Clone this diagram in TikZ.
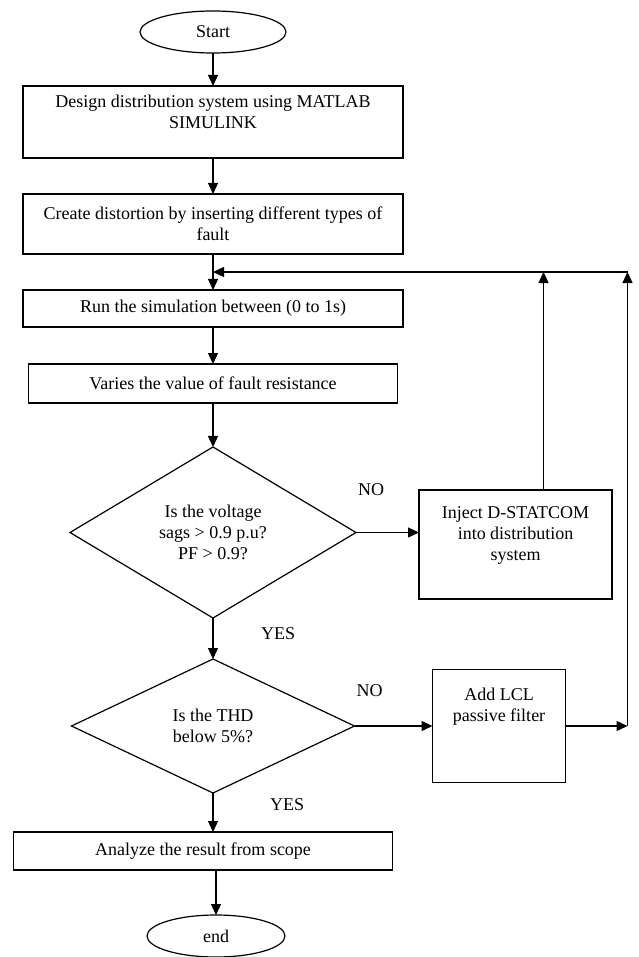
\documentclass[tikz,border=0pt]{standalone}
\usepackage{fontspec}
\setmainfont{Liberation Serif}
\usepackage{tikz}
\usetikzlibrary{arrows.meta,positioning,calc,shapes.geometric}

\begin{document}
\begin{tikzpicture}[
  x=1pt, y=1pt,
  font=\fontsize{18}{21}\selectfont,
  node distance=36pt,
  term/.style = {draw, ellipse, line width=1.2pt, minimum width=146pt,
    minimum height=42pt, inner sep=0pt, outer sep=0pt},
  proc/.style = {draw, rectangle, line width=1.2pt, minimum width=380pt,
    inner sep=0pt, outer sep=0pt, align=center},
  dec/.style = {draw, diamond, line width=1.2pt, minimum width=286pt,
    minimum height=171pt, inner sep=0pt, outer sep=0pt, align=center},
  lbl/.style = {inner sep=0pt},
  arr/.style = {-{Triangle[length=11pt, width=10pt]}, line width=1.3pt},
]
\useasboundingbox (0,0) rectangle (638,-957);
% main column
\node[term] (start) at (213,-32) {Start};
\node[proc, minimum height=72pt, below=33pt of start] (design)
  {Design distribution system using MATLAB\\ SIMULINK\\ \mbox{}};
\node[proc, minimum height=60pt, below=36pt of design] (fault)
  {Create distortion by inserting different types of\\ fault};
\node[proc, minimum height=37pt, below=36pt of fault] (run)
  {Run the simulation between (0 to 1s)};
\node[proc, minimum width=369pt, minimum height=39pt, below=37pt of run] (vary)
  {Varies the value of fault resistance};
\node[dec, below=44pt of vary] (sag)
  {Is the voltage\\ sags > 0.9 p.u?\\ PF > 0.9?};
\node[dec, minimum width=283pt, minimum height=134pt, below=41pt of sag] (thd)
  {Is the THD\\ below 5\%?};
\node[proc, minimum width=379pt, minimum height=38pt, below=39pt of thd,
  xshift=-10pt] (scope) {Analyze the result from scope};
\node[term, minimum width=138pt, below=45pt of scope, xshift=13pt] (stop) {end};
% side branch
\node[proc, minimum width=193pt, minimum height=109pt, right=63pt of sag,
  yshift=-12pt] (inject) {Inject D-STATCOM\\ into distribution\\ system\\ \mbox{}};
\node[proc, minimum width=133pt, minimum height=113pt, right=78pt of thd] (lcl)
  {Add LCL\\ passive filter\\ \mbox{}\\ \mbox{}};
% labels
\node[lbl, above right=37pt and 2pt of sag.east] (no1) {NO};
\node[lbl, above right=29pt and 2pt of thd.east] (no2) {NO};
\node[lbl, below right=9pt and 48pt of sag.south] (yes1) {YES};
\node[lbl, below right=5pt and 57pt of thd.south] (yes2) {YES};
% feedback points
\coordinate (loop) at ($(fault.south)!0.5!(run.north)$);
\coordinate (rail) at ($(lcl.east |- loop)+(62pt,0)$);
\coordinate (up) at ($(inject.north)+(28pt,0)$);
% connectors
\draw[arr] (start) -- (design);
\draw[arr] (design) -- (fault);
\draw[arr] (fault) -- (run);
\draw[arr] (run) -- (vary);
\draw[arr] (vary) -- (sag);
\draw[arr] (sag) -- (thd);
\draw[arr] (thd.south) -- (thd.south |- scope.north);
\draw[arr] (scope.south -| stop.north) -- (stop.north);
\draw[arr] (sag) -- (sag -| inject.west);
\draw[arr] (thd) -- (lcl);
\draw[arr] (up) -- (up |- loop);
\draw[arr] (lcl) -- (lcl -| rail);
\draw[arr] (lcl -| rail) -- (rail);
\draw[arr] (rail) -- (loop);
\end{tikzpicture}
\end{document}
